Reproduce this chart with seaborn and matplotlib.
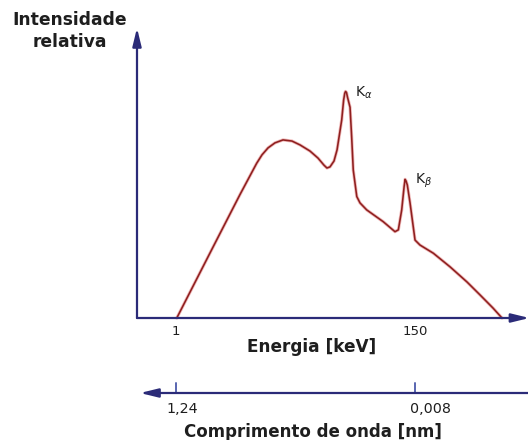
import matplotlib
matplotlib.use("Agg")
import matplotlib.pyplot as plt
import matplotlib.patheffects as pe
import seaborn as sns
import pandas as pd

# X-ray tube spectrum: continuous bremsstrahlung plus the K-alpha / K-beta lines
energy = [1.5, 24.3, 40.9, 51.3, 54.6, 58.4, 62.7, 67.7, 73.3, 78.3, 84.5,
          89.5, 93.2, 95.1, 97.0, 99.5, 101.4, 104.3, 105.5, 106.2, 106.7,
          107.3, 107.9, 109.5, 110.5, 111.5, 113.7, 115.7, 119.9, 130.2, 137.5,
          139.6, 141.7, 143.2, 143.8, 144.4, 145.2, 146.9, 150.0, 153.1, 161.4,
          171.8, 182.4, 190.5, 198.6, 204.2]
intensity = [0.0, 0.316, 0.545, 0.683, 0.720, 0.751, 0.773, 0.786, 0.781,
             0.764, 0.737, 0.706, 0.675, 0.662, 0.667, 0.693, 0.742, 0.874,
             0.962, 0.992, 1.0, 0.995, 0.975, 0.930, 0.800, 0.653, 0.536,
             0.508, 0.477, 0.425, 0.381, 0.389, 0.477, 0.580, 0.612, 0.605,
             0.587, 0.508, 0.344, 0.322, 0.286, 0.226, 0.159, 0.102, 0.044,
             0.0]

energy_ticks = [1, 150]
energy_labels = ["1", "150"]
wavelength_labels = ["1,24", "0,008"]
peak_labels = [r"K$_\alpha$", r"K$_\beta$"]
peak_energy = [106.7, 143.8]
peak_intensity = [1.0, 0.612]

spectrum = pd.DataFrame({"energia": energy, "intensidade": intensity})

sns.set_theme(style="white")
plt.rcParams["font.family"] = ["DejaVu Sans"]
plt.rcParams["mathtext.fontset"] = "dejavusans"

W, H = 528, 440
fig = plt.figure(figsize=(W / 100, H / 100), dpi=100)

# axes box in pixels: x 137..527, y 28..318 (from top)
ax = fig.add_axes([137 / W, (H - 318) / H, 390 / W, 290 / H])
ax.set_xlim(-23.3, 219.8)
ax.set_ylim(0, 1.28)
ax.axis("off")

curve_color = "#8e1f1f"
axis_color = "#2b2b78"
text_color = "#1e1e1e"

sns.lineplot(data=spectrum, x="energia", y="intensidade", ax=ax, sort=False,
             estimator=None, color=curve_color, lw=1.15, clip_on=False,
             path_effects=[pe.Stroke(linewidth=2.3, foreground="#efb8b8"),
                           pe.Normal()])

arrow_kw = dict(arrowstyle="-|>,head_length=0.9,head_width=0.22",
                color=axis_color, lw=1.6, shrinkA=0, shrinkB=0)
xmin, xmax = ax.get_xlim()
ymin, ymax = ax.get_ylim()

# intensity axis
ax.annotate("", xy=(xmin, ymax), xytext=(xmin, ymin), arrowprops=arrow_kw,
            annotation_clip=False)
# energy axis
ax.annotate("", xy=(xmax + 1.5, ymin), xytext=(xmin, ymin),
            arrowprops=arrow_kw, annotation_clip=False)

# wavelength axis below, running the other way
trans = ax.get_xaxis_transform()
y_wave = -75 / 290
ax.annotate("", xy=(-21.4, y_wave), xytext=(220.5, y_wave), xycoords=trans,
            textcoords=trans, arrowprops=arrow_kw, annotation_clip=False)
for e in energy_ticks:
    ax.plot([e, e], [y_wave, y_wave + 10 / 290], transform=trans,
            color="#5865b0", lw=1.4, clip_on=False)

# tick labels
for e, lab in zip(energy_ticks, energy_labels):
    ax.text(e, -13 / 290, lab, transform=trans, ha="center", va="center",
            fontsize=9.5, color=text_color)
for e, lab, dx in zip(energy_ticks, wavelength_labels, [4.0, 9.5]):
    ax.text(e + dx, -91 / 290, lab, transform=trans, ha="center",
            va="center", fontsize=10.3, color=text_color)

# peak labels
for e, i, lab in zip(peak_energy, peak_intensity, peak_labels):
    ax.annotate(lab, xy=(e, i), xytext=(7, -1), textcoords="offset points",
                ha="left", va="center", fontsize=10, color=text_color)

# axis titles
fig.text(70 / W, 1 - 31 / H, "Intensidade\nrelativa", ha="center",
         va="center", fontsize=12.3, fontweight="bold", color=text_color,
         linespacing=1.3)
fig.text(312 / W, 1 - 347 / H, "Energia [keV]", ha="center", va="center",
         fontsize=12.2, fontweight="bold", color=text_color)
fig.text(313 / W, 1 - 432 / H, "Comprimento de onda [nm]", ha="center",
         va="center", fontsize=12.0, fontweight="bold", color=text_color)

fig.savefig("out.png", dpi=100)
